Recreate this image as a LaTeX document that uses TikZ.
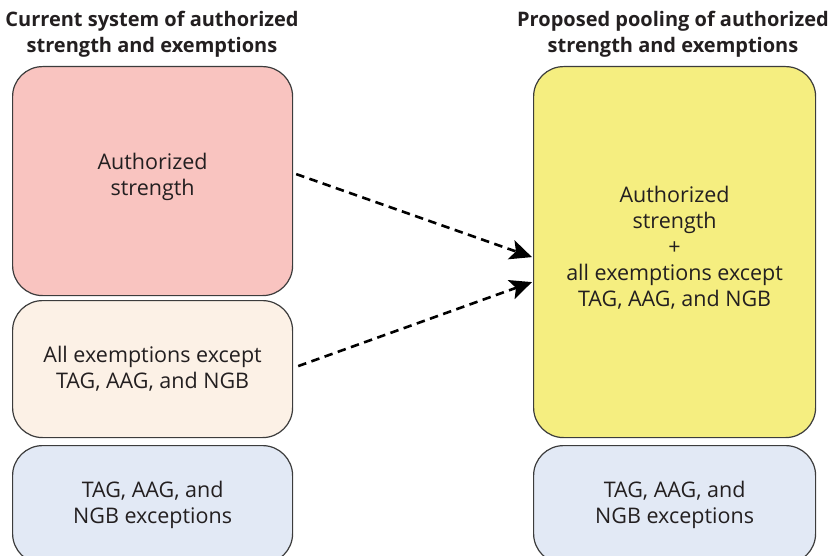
\documentclass[tikz,border=0pt]{standalone}
\usepackage{fontspec}
\setmainfont{Open Sans}
\usetikzlibrary{arrows.meta,calc}
\definecolor{pinkfill}{HTML}{F9C4C0}
\definecolor{beigefill}{HTML}{FCF1E6}
\definecolor{bluefill}{HTML}{E2E9F5}
\definecolor{yellowfill}{HTML}{F5EE80}
\definecolor{edgegray}{HTML}{3C3C3C}
\definecolor{textgray}{HTML}{231F20}
\tikzset{
  box/.style={draw=edgegray, line width=1.2pt, rounded corners=30pt, anchor=north west,
    align=center, text=textgray, font=\fontsize{21.5}{26}\selectfont, inner sep=0pt},
  boxtext/.style={align=center, text=textgray, font=\fontsize{21.5}{26}\selectfont, inner sep=0pt},
  title/.style={align=center, text=textgray, font=\fontsize{20}{26}\selectfont\bfseries},
  flow/.style={line width=2.6pt, dash pattern=on 8.5pt off 5.5pt, -{Stealth[length=22pt,width=20pt,inset=5pt]}}
}
\begin{document}
\begin{tikzpicture}[x=1pt,y=-1pt]
        \clip (0,0) rectangle (835,556);
        \node[title] (lefttitle) at (152,34) {Current system of authorized\\strength and exemptions}; %Titre gauche
        \node[title] (righttitle) at (673,34) {Proposed pooling of authorized\\strength and exemptions}; %Titre droit
        \node[box, fill=pinkfill, minimum width=280pt, minimum height=229pt] (auth) at (12,66) {}; %Haut gauche
        \node[boxtext] (authtext) at ($(auth.center)+(0,-4)$) {Authorized\\strength};
        \node[box, fill=beigefill, minimum width=280pt, minimum height=137pt] (exempt) at (12,300) {All exemptions except\\TAG, AAG, and NGB}; %Milieu gauche
        \node[box, fill=bluefill, minimum width=280pt, minimum height=118pt] (leftnat) at (12,445) {TAG, AAG, and\\NGB exceptions}; %Bas gauche
        \node[box, fill=yellowfill, minimum width=282pt, minimum height=371pt] (pool) at (533,66) {}; %Grand bloc droit
        \node[boxtext] (pooltext) at ($(pool.center)+(0,-4)$) {Authorized\\strength\\+\\all exemptions except\\TAG, AAG, and NGB};
        \node[box, fill=bluefill, minimum width=282pt, minimum height=118pt] (rightnat) at (533,445) {TAG, AAG, and\\NGB exceptions}; %Bas droit
        \draw[flow] ($(auth.east)+(3,-7)$) -- ($(pool.west)+(-1,5)$);
        \draw[flow] ($(exempt.east)+(5,-3)$) -- ($(pool.west)+(-1,30)$);
    \end{tikzpicture}
\end{document}
